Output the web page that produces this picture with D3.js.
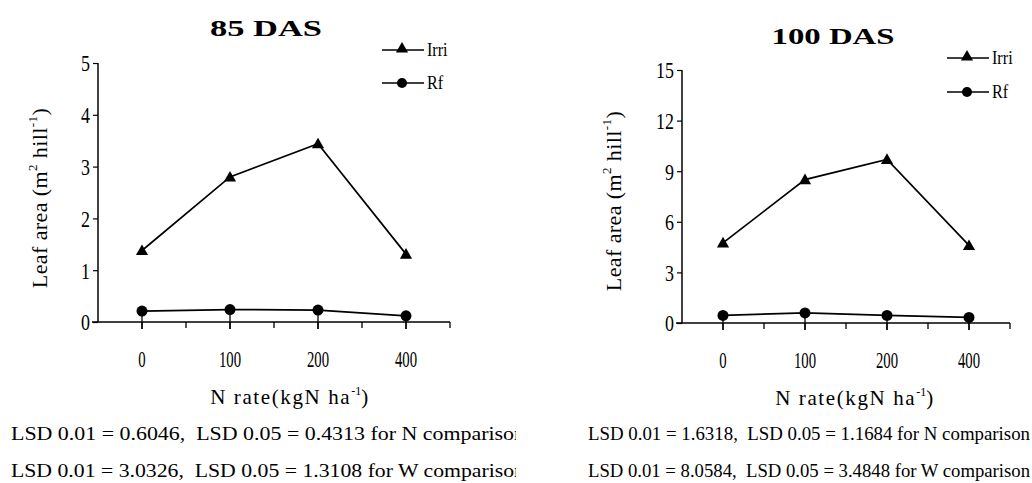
<!DOCTYPE html>
<html>
<head>
<meta charset="utf-8">
<script src="https://cdn.jsdelivr.net/npm/d3@7"></script>
<style>
  html, body { margin: 0; padding: 0; background: #fff; }
  svg { display: block; }
  svg text { font-family: "Liberation Serif", "Times New Roman", "DejaVu Serif", serif; fill: #000; }
</style>
</head>
<body>
<svg id="chart" width="1032" height="483"></svg>
<script>
// Nitrogen rates (kg N/ha) on the category axis
const nRates = ["0", "100", "200", "400"];

// Leaf area (m2 per hill), 85 days after sowing
const irri85 = [1.38, 2.80, 3.44, 1.31];
const rf85   = [0.21, 0.24, 0.23, 0.12];
const yTicks85 = [0, 1, 2, 3, 4, 5];

// Leaf area (m2 per hill), 100 days after sowing
const irri100 = [4.75, 8.5, 9.7, 4.6];
const rf100   = [0.45, 0.6, 0.45, 0.33];
const yTicks100 = [0, 3, 6, 9, 12, 15];

const seriesNames = ["Irri", "Rf"];

const lsd85 = [
  "LSD 0.01 = 0.6046,  LSD 0.05 = 0.4313 for N comparison",
  "LSD 0.01 = 3.0326,  LSD 0.05 = 1.3108 for W comparison"
];
const lsd100 = [
  "LSD 0.01 = 1.6318,  LSD 0.05 = 1.1684 for N comparison",
  "LSD 0.01 = 8.0584,  LSD 0.05 = 3.4848 for W comparison"
];

const SERIF = "Liberation Serif, Times New Roman, DejaVu Serif, serif";
const svg = d3.select("#chart").attr("font-family", SERIF);

svg.append("defs").append("clipPath").attr("id", "clipLeft")
  .append("rect").attr("x", 0).attr("y", 0).attr("width", 516).attr("height", 483);

const triangle = d3.symbol().type(d3.symbolTriangle).size(64);

// horizontally squeezed text around its anchor point
function squeeze(sel, ax, k) {
  sel.attr("transform", `translate(${ax},0) scale(${k},1) translate(${-ax},0)`);
}

function panel(cfg) {
  const g = svg.append("g");
  const x = d3.scaleBand().domain(nRates).range([cfg.x0, cfg.x1]);
  const y = d3.scaleLinear().domain([0, cfg.yMax]).range([cfg.y0, cfg.y1]);
  const cx = d => x(d) + x.bandwidth() / 2;

  // title
  g.append("text").attr("x", cfg.titleX - cfg.titleW / 2).attr("y", cfg.titleY)
    .attr("font-family", SERIF).attr("font-weight", "bold")
    .attr("font-size", 23)
    .attr("textLength", cfg.titleW).attr("lengthAdjust", "spacingAndGlyphs")
    .text(cfg.title);

  // y axis
  const yAxis = d3.axisLeft(y).tickValues(cfg.yTicks).tickSize(5).tickPadding(3)
    .tickFormat(d3.format("d"));
  const ya = g.append("g").attr("transform", `translate(${cfg.x0},0)`).call(yAxis)
    .attr("font-family", SERIF);
  ya.select(".domain").attr("stroke", "#000").attr("stroke-width", 1.5)
    .attr("d", `M0,${cfg.y0}V${cfg.y1}`);
  ya.selectAll(".tick line").attr("stroke", "#000").attr("stroke-width", 1.2);
  ya.selectAll(".tick text").attr("font-size", 23).attr("font-family", SERIF)
    .attr("fill", "#000").attr("dy", "0.34em")
    .attr("transform", "translate(-8,0) scale(0.78,1) translate(8,0)");

  // x axis: ticks at category centres and boundaries
  const xa = g.append("g").attr("transform", `translate(0,${cfg.y0})`);
  xa.append("line").attr("x1", cfg.x0 - 6).attr("x2", cfg.x1)
    .attr("stroke", "#000").attr("stroke-width", 1.5);
  const bounds = nRates.map(d => x(d)).concat([cfg.x1]).slice(1);
  xa.selectAll("line.bnd").data(bounds).join("line").attr("class", "bnd")
    .attr("x1", d => d).attr("x2", d => d).attr("y1", 0).attr("y2", 6)
    .attr("stroke", "#000").attr("stroke-width", 1.3);
  xa.selectAll("line.ctr").data(nRates).join("line").attr("class", "ctr")
    .attr("x1", cx).attr("x2", cx).attr("y1", 0).attr("y2", 7)
    .attr("stroke", "#000").attr("stroke-width", 1.3);
  xa.selectAll("text").data(nRates).join("text")
    .attr("x", cx).attr("y", 45).attr("text-anchor", "middle")
    .attr("font-family", SERIF).attr("font-size", 23)
    .each(function (d) { squeeze(d3.select(this), cx(d), 0.64); })
    .text(d => d);

  // x title
  const xt = g.append("text").attr("x", cfg.xTitleX).attr("y", cfg.y0 + 82)
    .attr("text-anchor", "middle").attr("font-family", SERIF)
    .attr("font-size", 21).attr("letter-spacing", 1.6);
  xt.append("tspan").text("N rate(kgN ha");
  xt.append("tspan").attr("dy", -9).attr("font-size", 12).attr("letter-spacing", 0).text("-1");
  xt.append("tspan").attr("dy", 9).text(")");

  // y title
  const yt = g.append("text")
    .attr("transform", `translate(${cfg.yTitleX},${cfg.yTitleY}) rotate(-90)`)
    .attr("text-anchor", "middle").attr("font-family", SERIF)
    .attr("font-size", 22).attr("letter-spacing", 0.4);
  yt.append("tspan").text("Leaf area (m");
  yt.append("tspan").attr("dy", -10).attr("font-size", 13).text("2");
  yt.append("tspan").attr("dy", 10).text("  hill");
  yt.append("tspan").attr("dy", -10).attr("font-size", 13).text("-1");
  yt.append("tspan").attr("dy", 10).text(")");

  // series
  const line = d3.line().x((v, i) => cx(nRates[i])).y(v => y(v));

  // Rf error stubs down through the axis
  g.selectAll("line.err").data(cfg.rf).join("line").attr("class", "err")
    .attr("x1", (v, i) => cx(nRates[i])).attr("x2", (v, i) => cx(nRates[i]))
    .attr("y1", v => y(v)).attr("y2", cfg.y0 + 7)
    .attr("stroke", "#000").attr("stroke-width", 1.3);

  g.append("path").datum(cfg.irri).attr("d", line)
    .attr("fill", "none").attr("stroke", "#000").attr("stroke-width", 1.7);
  g.append("path").datum(cfg.rf).attr("d", line)
    .attr("fill", "none").attr("stroke", "#000").attr("stroke-width", 1.7);

  g.selectAll("path.tri").data(cfg.irri).join("path").attr("class", "tri")
    .attr("d", triangle)
    .attr("transform", (v, i) => `translate(${cx(nRates[i])},${y(v) + 1})`)
    .attr("fill", "#000");
  g.selectAll("circle.dot").data(cfg.rf).join("circle").attr("class", "dot")
    .attr("cx", (v, i) => cx(nRates[i])).attr("cy", v => y(v)).attr("r", 5.5)
    .attr("fill", "#000");

  // legend
  const lg = g.append("g");
  seriesNames.forEach((name, i) => {
    const ly = cfg.legY + i * cfg.legGap;
    lg.append("line").attr("x1", cfg.legX).attr("x2", cfg.legX + 42)
      .attr("y1", ly).attr("y2", ly).attr("stroke", "#000").attr("stroke-width", 1.5);
    if (i === 0) {
      lg.append("path").attr("d", triangle)
        .attr("transform", `translate(${cfg.legX + 20},${ly - 1})`).attr("fill", "#000");
    } else {
      lg.append("circle").attr("cx", cfg.legX + 20).attr("cy", ly).attr("r", 5).attr("fill", "#000");
    }
    const t = lg.append("text").attr("x", cfg.legX + 45).attr("y", ly + 6)
      .attr("font-family", SERIF).attr("font-size", 19).text(name);
    squeeze(t, cfg.legX + 45, 0.85);
  });

  // LSD notes
  const notes = g.append("g");
  if (cfg.clip) notes.attr("clip-path", "url(#clipLeft)");
  cfg.lsd.forEach((s, i) => {
    notes.append("text").attr("x", cfg.lsdX).attr("y", 440 + i * 37)
      .attr("font-family", SERIF).attr("font-size", 18.5)
      .attr("textLength", cfg.lsdW).attr("lengthAdjust", "spacingAndGlyphs")
      .style("white-space", "pre").text(s);
  });
}

panel({
  title: "85 DAS", titleX: 266, titleY: 36, titleW: 112,
  x0: 98, x1: 450, y0: 322, y1: 63, yMax: 5, yTicks: yTicks85,
  irri: irri85, rf: rf85,
  xTitleX: 290, yTitleX: 47, yTitleY: 198,
  legX: 382, legY: 50, legGap: 33,
  lsd: lsd85, lsdX: 11, lsdW: 514, clip: true
});

panel({
  title: "100 DAS", titleX: 833, titleY: 44, titleW: 123,
  x0: 682, x1: 1010, y0: 323, y1: 70, yMax: 15, yTicks: yTicks100,
  irri: irri100, rf: rf100,
  xTitleX: 855, yTitleX: 621, yTitleY: 201,
  legX: 947, legY: 58, legGap: 34,
  lsd: lsd100, lsdX: 588, lsdW: 442, clip: false
});
</script>
</body>
</html>
